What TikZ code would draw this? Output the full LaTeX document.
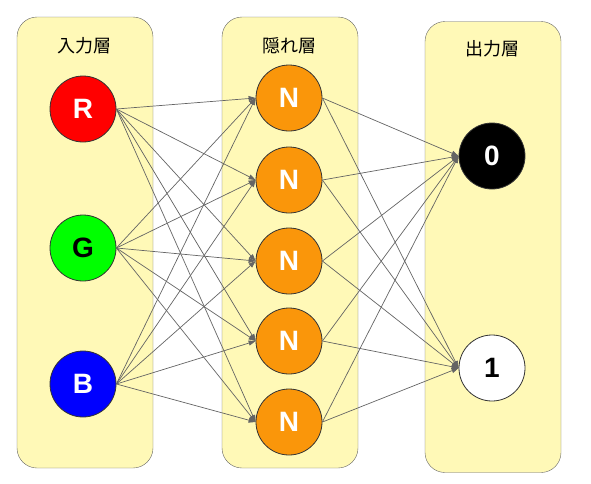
\documentclass[tikz,border=0pt]{standalone}
\usepackage{fontspec}
\setmainfont{Liberation Sans}
\newfontfamily\jpfont{Noto Sans CJK JP}
\usetikzlibrary{shapes,arrows.meta,positioning}
\definecolor{paneyellow}{RGB}{255,249,183}
\definecolor{neuronorange}{RGB}{250,150,10}
\definecolor{wiregray}{RGB}{100,100,100}
\def\InTitle{入力層}
\def\HidTitle{隠れ層}
\def\OutTitle{出力層}

\begin{document}
\begin{tikzpicture}[x=1pt,y=-1pt,% one unit is one pixel of the reference
			every node/.style={
				align=center,
				inner sep=0pt
			},
			layer/.style={rectangle,rounded corners=20pt,draw=black!60,fill=paneyellow,
				minimum width=136pt,minimum height=451pt},
			title/.style={font=\jpfont\fontsize{18}{18}\selectfont},
			unit/.style={circle,draw=black!80,line width=0.8pt,minimum size=66pt,
				font=\bfseries\fontsize{28}{28}\selectfont,text=white},
			every edge/.style={draw=wiregray,line width=0.7pt,-{Triangle[length=7pt,width=5pt]}}
		]
		\useasboundingbox (0,0) rectangle (591,483);
		% the three layers
		\node[layer](Lin) at (85,242.5){};
		\node[layer](Lhid) at (290,242.5){};
		\node[layer](Lout) at (493,247){};
		\node[title](Tin) at (84,46){\InTitle};
		\node[title](Thid) at (289,46){\HidTitle};
		\node[title](Tout) at (492,49){\OutTitle};
		% input units
		\node[unit,fill=red](R) at (83,109){R};
		\node[unit,fill=green,text=black](G) at (83,248){G};
		\node[unit,fill=blue](B) at (83,384){B};
		% hidden units
		\node[unit,fill=neuronorange](N1) at (289,98){N};
		\node[unit,fill=neuronorange](N2) at (289,180){N};
		\node[unit,fill=neuronorange](N3) at (289,261){N};
		\node[unit,fill=neuronorange](N4) at (289,341){N};
		\node[unit,fill=neuronorange](N5) at (289,422){N};
		% output units
		\node[unit,fill=black](O0) at (492,156){0};
		\node[unit,fill=white,text=black](O1) at (492,368){1};
		\path
		(R.east)edge (N1.west)
		(R.east)edge (N2.west)
		(R.east)edge (N3.west)
		(R.east)edge (N4.west)
		(R.east)edge (N5.west)
		(G.east)edge (N1.west)
		(G.east)edge (N2.west)
		(G.east)edge (N3.west)
		(G.east)edge (N4.west)
		(G.east)edge (N5.west)
		(B.east)edge (N1.west)
		(B.east)edge (N2.west)
		(B.east)edge (N3.west)
		(B.east)edge (N4.west)
		(B.east)edge (N5.west)
		(N1.east)edge (O0.west)
		(N2.east)edge (O0.west)
		(N3.east)edge (O0.west)
		(N4.east)edge (O0.west)
		(N5.east)edge (O0.west)
		(N1.east)edge (O1.west)
		(N2.east)edge (O1.west)
		(N3.east)edge (O1.west)
		(N4.east)edge (O1.west)
		(N5.east)edge (O1.west)
		;
	\end{tikzpicture}
\end{document}
